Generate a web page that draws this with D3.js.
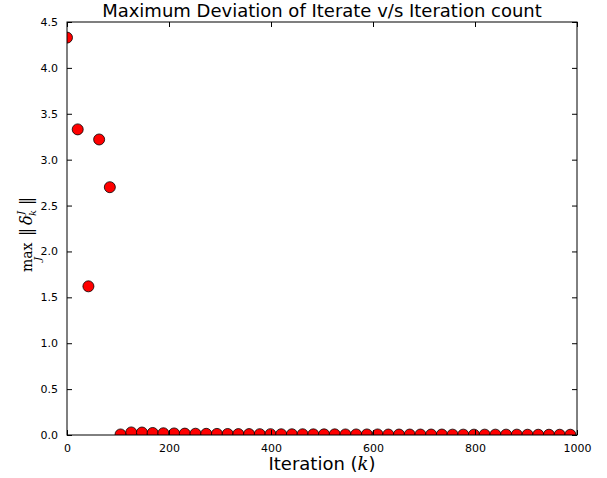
<!DOCTYPE html>
<html><head><meta charset="utf-8">
<script src="https://cdn.jsdelivr.net/npm/d3@7"></script>
<style>body{margin:0;background:#fff}svg{display:block}</style>
</head><body>
<script>
const iterations = [0,21,42,63,84,105,126,147,168,189,210,231,252,273,294,315,336,357,378,399,420,441,462,483,504,525,546,567,588,609,630,651,672,693,714,735,756,777,798,819,840,861,882,903,924,945,966,987];
const deviations = [4.33,3.33,1.62,3.22,2.70,0.006,0.028,0.027,0.022,0.019,0.017,0.015,0.014,0.013,0.012,0.011,0.010,0.010,0.009,0.009,0.008,0.008,0.008,0.007,0.007,0.007,0.006,0.006,0.006,0.006,0.005,0.005,0.005,0.005,0.005,0.005,0.004,0.004,0.004,0.004,0.004,0.004,0.004,0.003,0.003,0.003,0.003,0.003];
const xTicks = [0,200,400,600,800,1000];
const yTicks = [0,0.5,1,1.5,2,2.5,3,3.5,4,4.5];

const W=607,H=478, m={l:67,r:30,t:22,b:43};
const svg=d3.select("body").append("svg").attr("width",W).attr("height",H);
const x=d3.scaleLinear().domain([0,1000]).range([m.l,W-m.r]);
const y=d3.scaleLinear().domain([0,4.5]).range([H-m.b,m.t]);

svg.append("defs").append("clipPath").attr("id","clip").append("rect")
  .attr("x",m.l).attr("y",m.t).attr("width",W-m.r-m.l).attr("height",H-m.b-m.t);

svg.append("g").attr("clip-path","url(#clip)").selectAll("circle").data(iterations).enter().append("circle")
  .attr("cx",d=>x(d)).attr("cy",(d,i)=>y(deviations[i])).attr("r",5.5)
  .attr("fill","#ff0000").attr("stroke","#000").attr("stroke-width",0.8);

const font="DejaVu Sans";
function ax(g){g.selectAll("text").attr("font-family",font).attr("font-size",11).attr("fill","#000");
  g.select(".domain").remove(); g.selectAll("line").attr("stroke","#000");}
svg.append("g").attr("transform",`translate(0,${H-m.b})`).call(d3.axisBottom(x).tickValues(xTicks).tickSize(-5).tickPadding(9).tickFormat(d3.format("d"))).call(ax);
svg.append("g").attr("transform",`translate(0,${m.t})`).call(d3.axisTop(x).tickValues(xTicks).tickSize(-5).tickFormat("")).call(ax);
svg.append("g").attr("transform",`translate(${m.l},0)`).call(d3.axisLeft(y).tickValues(yTicks).tickSize(-5).tickPadding(9).tickFormat(d3.format(".1f"))).call(ax);
svg.append("g").attr("transform",`translate(${W-m.r},0)`).call(d3.axisRight(y).tickValues(yTicks).tickSize(-5).tickFormat("")).call(ax);

svg.append("rect").attr("x",m.l).attr("y",m.t).attr("width",W-m.r-m.l).attr("height",H-m.b-m.t)
  .attr("fill","none").attr("stroke","#000").attr("stroke-width",1);

svg.append("text").attr("x",(m.l+W-m.r)/2).attr("y",17).attr("text-anchor","middle")
  .attr("font-family",font).attr("font-size",18).text("Maximum Deviation of Iterate v/s Iteration count");

const xl=svg.append("text").attr("x",(m.l+W-m.r)/2).attr("y",470).attr("text-anchor","middle")
  .attr("font-family",font).attr("font-size",18);
xl.append("tspan").text("Iteration (");
xl.append("tspan").attr("font-family","DejaVu Serif").attr("font-style","italic").text("k");
xl.append("tspan").text(")");

// y label: pieces placed along the rotated baseline
const yg=svg.append("g").attr("font-family","DejaVu Serif").attr("fill","#000");
const parts=[
  {t:"max",x:0,y:0,s:14,i:false},
  {t:"J",x:11,y:9,s:10,i:true},
  {t:"\u2016",x:36,y:0,s:16,i:false},
  {t:"δ",x:47,y:0,s:16,i:true},
  {t:"k",x:56,y:4,s:10,i:true},
  {t:"J",x:57,y:-8,s:10,i:true},
  {t:"\u2016",x:67,y:0,s:16,i:false}
];
const inner=yg.append("g");
inner.selectAll("text").data(parts).enter().append("text")
  .attr("x",d=>d.x).attr("y",d=>d.y).attr("font-size",d=>d.s)
  .attr("font-style",d=>d.i?"italic":"normal").text(d=>d.t);
const bb=inner.node().getBBox();
const cy=(m.t+H-m.b)/2+6;
yg.attr("transform",`translate(32,${cy}) rotate(-90) translate(${-(bb.x+bb.width/2)},0)`);
</script>
</body></html>
